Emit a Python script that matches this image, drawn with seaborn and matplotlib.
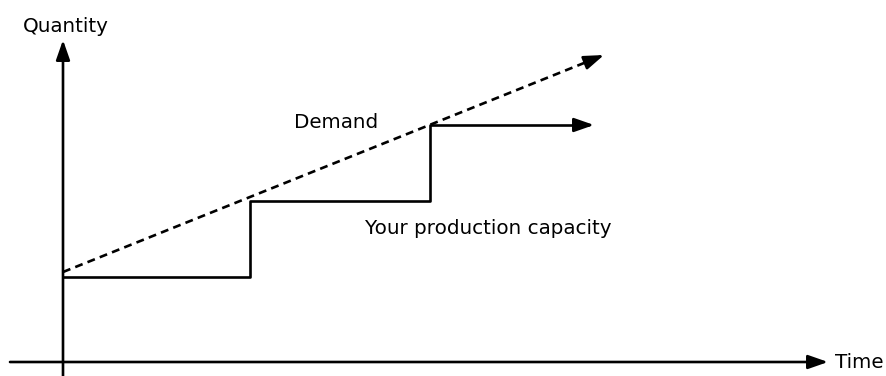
import matplotlib
matplotlib.use("Agg")
import matplotlib.pyplot as plt
import seaborn as sns
import pandas as pd

# Data (arbitrary units: time on x, quantity on y)
cap_time = [0, 187, 187, 367, 367, 526]
cap_qty = [85, 85, 161, 161, 237, 237]
demand_time = [0, 536]
demand_qty = [90, 305]
axis_x_range = [-53, 765]
axis_y_range = [-14, 322]

sns.set_theme(style="white")
plt.rcParams['font.family'] = ['DejaVu Sans']

fig = plt.figure(figsize=(8.87, 3.76), dpi=100)
ax = fig.add_axes([0, 0, 1, 1])
ax.set_xlim(-63, 824)
ax.set_ylim(-14, 362)
ax.axis("off")

lw = 1.9
cap_df = pd.DataFrame({"t": cap_time, "q": cap_qty})
sns.lineplot(data=cap_df, x="t", y="q", sort=False, estimator=None, color="black",
             lw=lw, ax=ax, solid_capstyle="butt")
dem_df = pd.DataFrame({"t": demand_time, "q": demand_qty})
sns.lineplot(data=dem_df, x="t", y="q", sort=False, estimator=None, color="black",
             lw=lw, linestyle=(0, (3, 2)), ax=ax, dash_capstyle="butt")

aprops = dict(arrowstyle="-|>,head_length=1.2,head_width=0.42", color="black",
              lw=lw, shrinkA=0, shrinkB=0, mutation_scale=10)
# axes
ax.annotate("", xy=(axis_x_range[1], 0), xytext=(axis_x_range[0], 0), arrowprops=aprops)
ax.annotate("", xy=(0, axis_y_range[1]), xytext=(0, axis_y_range[0]), arrowprops=aprops)
# line heads (tips slightly past the line ends so the head covers them)
ext = 5
back = 10
ax.annotate("", xy=(cap_time[-1] + ext, cap_qty[-1]),
            xytext=(cap_time[-1] - back, cap_qty[-1]), arrowprops=aprops)
slope = (demand_qty[1] - demand_qty[0]) / (demand_time[1] - demand_time[0])
ax.annotate("", xy=(demand_time[-1] + ext, demand_qty[-1] + ext * slope),
            xytext=(demand_time[-1] - back, demand_qty[-1] - back * slope),
            arrowprops=aprops)

fs = 14.3
ax.text(-40, 335, "Quantity", fontsize=fs, ha="left", va="center", color="black")
ax.text(772, 0, "Time", fontsize=fs, ha="left", va="center", color="black")
ax.text(273, 240, "Demand", fontsize=fs, ha="center", va="center", color="black")
ax.text(425, 134, "Your production capacity", fontsize=fs, ha="center", va="center", color="black")

fig.savefig("out.png", dpi=100)
